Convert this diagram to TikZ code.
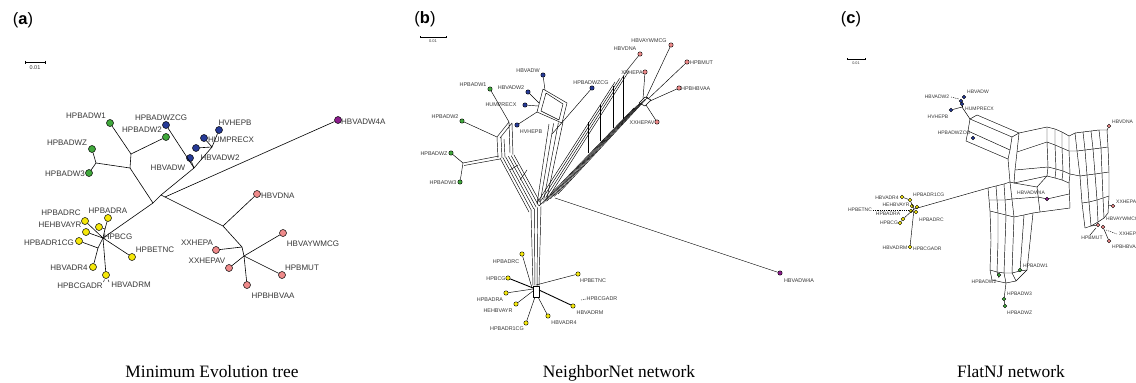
\documentclass[tikz,border=0pt]{standalone}
\usepackage{fontspec}
\setmainfont{Liberation Serif}
\setsansfont{Liberation Sans}
\usetikzlibrary{calc}
\definecolor{cgr}{RGB}{64,168,60}
\definecolor{cbl}{RGB}{38,58,150}
\definecolor{cpu}{RGB}{140,28,140}
\definecolor{cpk}{RGB}{238,138,138}
\definecolor{cye}{RGB}{245,232,10}
\definecolor{ctx}{RGB}{55,55,55}
\tikzset{
 ed/.style={line width=0.6pt, black},
 nt/.style={line width=0.45pt, black, line join=round},
 lf/.style={circle, draw=black, line width=0.5pt, inner sep=0pt, minimum size=7pt},
 sf/.style={circle, draw=black, line width=0.4pt, inner sep=0pt, minimum size=4.4pt},
 sc/.style={circle, draw=black, line width=0.4pt, inner sep=0pt, minimum size=3.8pt},
 la/.style={font=\sffamily\fontsize{8}{9}\selectfont, text=ctx, inner sep=0pt},
 lb/.style={font=\sffamily\fontsize{5.4}{6}\selectfont, text=ctx, inner sep=0pt},
 lc/.style={font=\sffamily\fontsize{5}{6}\selectfont, text=ctx, inner sep=0pt},
 pl/.style={font=\sffamily\fontsize{16.5}{18}\selectfont, inner sep=0pt},
 capt/.style={font=\rmfamily\fontsize{17.4}{20}\selectfont, inner sep=0pt, anchor=base},
 sbl/.style={font=\sffamily\fontsize{5.5}{6}\selectfont, text=ctx, inner sep=0pt},
 ldr/.style={line width=0.4pt, dash pattern=on 1.2pt off 1pt}
}
\begin{document}
\begin{tikzpicture}[x=1pt,y=-1pt]
\useasboundingbox (0,0) rectangle (1136,383);
\fill[white] (0,0) rectangle (1136,383);

%% ================= Panel (a) =================
\node[pl] (pa) at (23,20) {(\textbf{a})};
\coordinate (sa1) at (25,62); \coordinate (sa2) at (45,62);
\draw[line width=0.6pt] (sa1) -- (sa2);
\draw[line width=0.5pt] (25,60.5) -- (25,63.5) (45,60.5) -- (45,63.5);
\node[sbl] (sal) at (35,68) {0.01};

% leaves
\node[lf,fill=cgr] (aW1) at (110,123) {};
\node[lf,fill=cgr] (aW2) at (166,137) {};
\node[lf,fill=cgr] (aWZ) at (92,149) {};
\node[lf,fill=cgr] (aW3) at (89,173) {};
\node[lf,fill=cbl] (aZCG) at (166,125) {};
\node[lf,fill=cbl] (aHV) at (219,130) {};
\node[lf,fill=cbl] (aHU) at (204,138) {};
\node[lf,fill=cbl] (aD2) at (196,148) {};
\node[lf,fill=cbl] (aDW) at (190,158) {};
\node[lf,fill=cpu] (a4A) at (338,120) {};
\node[lf,fill=cye] (aRC) at (85,221) {};
\node[lf,fill=cye] (aRA) at (108,218) {};
\node[lf,fill=cye] (aY1) at (99,227) {};
\node[lf,fill=cye] (aY2) at (86,232) {};
\node[lf,fill=cye] (aR1) at (79,241) {};
\node[lf,fill=cye] (aET) at (132,257) {};
\node[lf,fill=cye] (aR4) at (93,267) {};
\node[lf,fill=cye] (aRM) at (106,275) {};
\node[lf,fill=cpk] (aDNA) at (257,194) {};
\node[lf,fill=cpk] (aXA) at (216,250) {};
\node[lf,fill=cpk] (aYW) at (283,233) {};
\node[lf,fill=cpk] (aXV) at (229,268) {};
\node[lf,fill=cpk] (aMU) at (282,275) {};
\node[lf,fill=cpk] (aHB) at (247,285) {};

% labels
\node[la] (taW1) at (86,116) {HPBADW1};
\node[la] (taW2) at (142,130) {HPBADW2};
\node[la] (taWZ) at (67,143) {HPBADWZ};
\node[la] (taW3) at (65,174) {HPBADW3};
\node[la] (taZCG) at (161,118) {HPBADWZCG};
\node[la] (taHV) at (235,123) {HVHEPB};
\node[la] (taHU) at (231,140) {HUMPRECX};
\node[la] (taD2) at (220,158) {HBVADW2};
\node[la] (taDW) at (168,168) {HBVADW};
\node[la,anchor=west] (ta4A) at (341,122) {HBVADW4A};
\node[la] (taRC) at (61,213) {HPBADRC};
\node[la] (taRA) at (108,211) {HPBADRA};
\node[la] (taVY) at (60,225) {HEHBVAYR};
\node[la] (taR1) at (49,243) {HPBADR1CG};
\node[la] (taCG) at (118,237) {HPBCG};
\node[la] (taET) at (155,250) {HPBETNC};
\node[la] (taR4) at (69,268) {HBVADR4};
\node[la] (taRM) at (131,285) {HBVADRM};
\node[la] (taCGA) at (80,286) {HPBCGADR};
\node[la,anchor=west] (taDNA) at (261,196) {HBVDNA};
\node[la] (taXA) at (197,243) {XXHEPA};
\node[la] (taYW) at (313,244) {HBVAYWMCG};
\node[la] (taXV) at (207,261) {XXHEPAV};
\node[la] (taMU) at (302,268) {HPBMUT};
\node[la] (taHB) at (273,296) {HPBHBVAA};
\draw[line width=0.4pt] (103.5,282) -- (104.5,279.5) (109,282) -- (108,279.5);

% internal
\coordinate (ag1) at (131,154); \coordinate (ag2) at (130,168);
\coordinate (ag3) at (96,163);  \coordinate (aA) at (153,203);
\coordinate (aB) at (161,195);  \coordinate (aC) at (165,197);
\coordinate (ab1) at (194,168); \coordinate (ab2) at (212,147);
\coordinate (aY0) at (103,238); \coordinate (aY3) at (105,229);
\coordinate (aY4) at (98,248);  \coordinate (aP1) at (223,226);
\coordinate (aP2) at (242,247); \coordinate (aP3) at (244,256);

\draw[ed] (aW1) -- (ag1); \draw[ed] (aW2) -- (ag1); \draw[ed] (ag1) -- (ag2);
\draw[ed] (ag2) -- (ag3); \draw[ed] (ag3) -- (aWZ); \draw[ed] (ag3) -- (aW3);
\draw[ed] (ag2) -- (aA); \draw[ed] (aA) -- (aB); \draw[ed] (aB) -- (ab1);
\draw[ed] (ab1) -- (aZCG); \draw[ed] (ab1) -- (aDW); \draw[ed] (ab1) -- (ab2);
\draw[ed] (ab2) -- (aHV); \draw[ed] (ab2) -- (aHU); \draw[ed] (ab2) -- (aD2);
\draw[ed] (aB) -- (aC); \draw[ed] (aC) -- (a4A); \draw[ed] (aC) -- (aP1);
\draw[ed] (aP1) -- (aDNA); \draw[ed] (aP1) -- (aP2); \draw[ed] (aP2) -- (aXA);
\draw[ed] (aP2) -- (aP3); \draw[ed] (aP3) -- (aYW); \draw[ed] (aP3) -- (aXV);
\draw[ed] (aP3) -- (aMU); \draw[ed] (aP3) -- (aHB);
\draw[ed] (aA) -- (aY0); \draw[ed] (aY0) -- (aRC); \draw[ed] (aY0) -- (aET);
\draw[ed] (aY0) -- (aY3); \draw[ed] (aY3) -- (aRA); \draw[ed] (aY3) -- (aY1);
\draw[ed] (aY0) -- (aY2); \draw[ed] (aY0) -- (aY4); \draw[ed] (aY4) -- (aR1);
\draw[ed] (aY4) -- (aR4); \draw[ed] (aY0) -- (aRM);

\node[capt] (capa) at (212,377) {Minimum Evolution tree};

%% ================= Panel (b) =================
\node[pl] (pb) at (425,19) {(\textbf{b})};
\draw[line width=0.5pt] (420,37) -- (446,37);
\draw[line width=0.4pt] (420,36) -- (420,38) (446,36) -- (446,38);
\node[font=\sffamily\fontsize{4}{5}\selectfont,text=ctx,inner sep=0pt] (sbl) at (433,41) {0.01};

% network body
\foreach \t in {0,0.2,0.4,0.6,0.8,1}
  \draw[nt] ($(500,158)!\t!(514,155)$) -- ($(529,212)!\t!(541,204)$);
\foreach \t in {0,0.33,0.67,1}
  \draw[nt] ($(549,124)!\t!(563,122)$) -- ($(537,204)!\t!(547,198)$);
\foreach \t in {0,0.2,0.4,0.6,0.8,1}
  \draw[nt] ($(539,206)!\t!(558,194)$) -- ($(634,108)!\t!(648,97)$);
\foreach \t in {0,0.33,0.67,1}
  \draw[nt] ($(537,203)!\t!(550,195)$) -- ($(615,82)!\t!(629,71)$);
\foreach \t in {0,0.33,0.67,1}
  \draw[nt] ($(531,210)!\t!(541,206)$) -- ($(533,286)!\t!(539,286)$);
\draw[nt] (613,86) -- (613,128) (623,76) -- (623,119) (600,105) -- (600,141) (588,122) -- (588,153);
\draw[nt] (520,180) -- (527,170) (510,170) -- (518,165);
% green box
\draw[nt] (497,137) -- (498,158) (501,137) -- (502,158) (504,139) -- (505,157)
          (509,122) -- (510,153) (512,123) -- (513,155)
          (497,137) -- (509,122) (500,138) -- (512,123);
% blue box
\draw[nt] (543,89) -- (567,103) -- (562,123) -- (537,112) -- cycle;
\draw[nt] (546,93) -- (563,104) -- (559,120) -- (541,111) -- cycle;
% pink node box
\draw[nt] (639,103) -- (645,97) -- (651,100) -- (645,106) -- cycle;
% yellow box
\draw[nt] (533,286) -- (539,286) -- (539,297) -- (533,297) -- cycle;

% leaves
\node[sf,fill=cpk] (bYW) at (671,45) {};
\node[sf,fill=cpk] (bDNA) at (640,54) {};
\node[sf,fill=cpk] (bMU) at (687,62) {};
\node[sf,fill=cpk] (bXA) at (645,72) {};
\node[sf,fill=cpk] (bHB) at (679,88) {};
\node[sf,fill=cpk] (bXV) at (657,122) {};
\node[sf,fill=cbl] (bZCG) at (592,88) {};
\node[sf,fill=cbl] (bDW) at (543,75) {};
\node[sf,fill=cbl] (bD2) at (528,92) {};
\node[sf,fill=cbl] (bHU) at (525,105) {};
\node[sf,fill=cbl] (bHV) at (517,125) {};
\node[sf,fill=cgr] (bW1) at (490,89) {};
\node[sf,fill=cgr] (bW2) at (462,121) {};
\node[sf,fill=cgr] (bWZ) at (451,153) {};
\node[sf,fill=cgr] (bW3) at (460,182) {};
\node[sf,fill=cpu] (b4A) at (780,273) {};
\node[sf,fill=cye] (bRC) at (522,254) {};
\node[sf,fill=cye] (bCG) at (508,278) {};
\node[sf,fill=cye] (bET) at (578,274) {};
\node[sf,fill=cye] (bRA) at (506,293) {};
\node[sf,fill=cye] (bVY) at (516,304) {};
\node[sf,fill=cye] (bRM) at (573,306) {};
\node[sf,fill=cye] (bR4) at (548,316) {};
\node[sf,fill=cye] (bR1) at (526,323) {};

\coordinate (bgz) at (463,163);
\draw[nt] (bW1) -- (509,122); \draw[nt] (bW2) -- (497,137);
\draw[nt] (bWZ) -- (bgz); \draw[nt] (bW3) -- (bgz);
\draw[nt] (bgz) -- (499,156); \draw[nt] (464,165.5) -- (500,159);
\draw[nt] (bDW) -- (545,90); \draw[nt] (bD2) -- (539,103);
\draw[nt] (bHU) -- (538,106); \draw[nt] (bHV) -- (537,112);
\draw[nt] (bZCG) -- (552,134);
\draw[nt] (bYW) -- (646,98); \draw[nt] (bMU) -- (648,99);
\draw[nt] (bHB) -- (650,101); \draw[nt] (bXV) -- (646,105);
\draw[nt] (bXA) -- (643,99); \draw[nt] (bDNA) -- (624,74);
\draw[nt] (555,198) -- (b4A);
\draw[nt] (bRC) -- (532,288); \draw[line width=0.9pt] (bCG) -- (533,288);
\draw[line width=0.9pt] (539,290) -- (bRM); \draw[nt] (bET) -- (536,285);
\draw[nt] (bRA) -- (533,289); \draw[nt] (bVY) -- (533,291);
\draw[nt] (bR1) -- (535,297); \draw[nt] (bR4) -- (538,297);
\draw[ldr] (581,300) -- (586,299);

\node[lb] (tbYW) at (649,41) {HBVAYWMCG};
\node[lb] (tbDNA) at (625,49) {HBVDNA};
\node[lb,anchor=west] (tbMU) at (690,63) {HPBMUT};
\node[lb] (tbXA) at (632,73) {XXHEPA};
\node[lb,anchor=west] (tbHB) at (681,89) {HPBHBVAA};
\node[lb] (tbXV) at (642,123) {XXHEPAV};
\node[lb] (tbZCG) at (591,83) {HPBADWZCG};
\node[lb] (tbDW) at (528,71) {HBVADW};
\node[lb] (tbD2) at (511,88) {HBVADW2};
\node[lb] (tbHU) at (501,105) {HUMPRECX};
\node[lb] (tbHV) at (531,132) {HVHEPB};
\node[lb] (tbW1) at (473,85) {HPBADW1};
\node[lb] (tbW2) at (445,117) {HPBADW2};
\node[lb] (tbWZ) at (434,154) {HPBADWZ};
\node[lb] (tbW3) at (443,183) {HPBADW3};
\node[lb] (tb4A) at (799,281) {HBVADW4A};
\node[lb] (tbRC) at (506,262) {HPBADRC};
\node[lb] (tbCG) at (496,279) {HPBCG};
\node[lb] (tbET) at (593,281) {HPBETNC};
\node[lb] (tbRA) at (490,300) {HPBADRA};
\node[lb] (tbVY) at (498,311) {HEHBVAYR};
\node[lb] (tbCGA) at (602,299) {HPBCGADR};
\node[lb] (tbRM) at (590,313) {HBVADRM};
\node[lb] (tbR4) at (564,323) {HBVADR4};
\node[lb] (tbR1) at (507,329) {HPBADR1CG};

\node[capt] (capb) at (619,377) {NeighborNet network};

%% ================= Panel (c) =================
\node[pl] (pc) at (851,19) {(\textbf{c})};
\draw[line width=0.5pt] (847,59) -- (865,59);
\draw[line width=0.4pt] (847,58) -- (847,60) (865,58) -- (865,60);
\node[font=\sffamily\fontsize{3.8}{4}\selectfont,text=ctx,inner sep=0pt] (scl) at (856,63) {0.01};

% top-left box
\draw[nt] (977,115) -- (970,119) -- (968,131) -- (966,141);
\draw[nt] (1019,133) -- (1012,137) -- (1010,150) -- (1008,159);
\draw[nt] (977,115) -- (1019,133) (970,119) -- (1012,137) (968,131) -- (1010,150) (966,141) -- (1008,159);
% middle horizontal strip
\draw[nt] (1019,133) -- (1017,152) -- (1015,170) -- (1014,183);
\draw[nt] (1047,127) -- (1047,142) -- (1048,167) -- (1047,176);
\draw[nt] (1055,129) -- (1055,145) -- (1056,169) -- (1055,178);
\draw[nt] (1062,132) -- (1062,148) -- (1063,171) -- (1062,180);
\draw[nt] (1069,136) -- (1069,151) -- (1070,174) -- (1069,183);
\draw[nt] (1019,133) -- (1047,127) -- (1055,129) -- (1062,132) -- (1069,136);
\draw[nt] (1017,152) -- (1047,142) -- (1055,145) -- (1062,148) -- (1069,151);
\draw[nt] (1015,170) -- (1048,167) -- (1056,169) -- (1063,171) -- (1070,174);
\draw[nt] (1014,183) -- (1047,176) -- (1055,178) -- (1062,180) -- (1069,183);
% right strip
\draw[nt] (1075,133) -- (1077,151) -- (1080,176) -- (1082,203) -- (1085,228);
\draw[nt] (1083,132) -- (1085,150) -- (1087,175) -- (1089,202) -- (1091,226);
\draw[nt] (1091,131) -- (1093,149) -- (1095,174) -- (1097,200) -- (1098,222);
\draw[nt] (1099,130) -- (1101,148) -- (1102,173) -- (1103,198) -- (1104,218);
\draw[nt] (1107,130) -- (1108,147) -- (1109,172) -- (1109,196) -- (1108,213);
\draw[nt] (1069,136) -- (1075,133) -- (1083,132) -- (1091,131) -- (1099,130) -- (1107,130);
\draw[nt] (1069,151) -- (1077,151) -- (1085,150) -- (1093,149) -- (1101,148) -- (1108,147);
\draw[nt] (1070,174) -- (1080,176) -- (1087,175) -- (1095,174) -- (1102,173) -- (1109,172);
\draw[nt] (1082,203) -- (1089,202) -- (1097,200) -- (1103,198) -- (1109,196);
\draw[nt] (1085,228) -- (1091,226) -- (1098,222) -- (1104,218) -- (1108,213);
% lower-left strip
\draw[nt] (1008,159) -- (1010,182) -- (1014,183);
\draw[nt] (988,188) -- (990,211) (996,186) -- (998,213) (1004,184) -- (1006,215) (1010,182) -- (1014,217);
\draw[nt] (988,188) -- (996,186) -- (1004,184) -- (1010,182);
\draw[nt] (989,200) -- (997,200) -- (1005,200) -- (1012,199);
\draw[nt] (990,211) -- (998,213) -- (1006,215) -- (1014,217);
% HBVADW4A box
\draw[nt] (1014,183) -- (1037,187) -- (1047,176);
\draw[nt] (1012,199) -- (1038,197);
\draw[nt] (1037,187) -- (1040,212) -- (1070,208) -- (1069,183);
\draw[nt] (1038,197) -- (1047,199) -- (1069,194);
% down strip
\draw[nt] (990,211) -- (991,240) -- (990,270);
\draw[nt] (998,213) -- (998,242) -- (997,272);
\draw[nt] (1006,215) -- (1005,244) -- (1004,273);
\draw[nt] (1014,217) -- (1013,244) -- (1012,273);
\draw[nt] (1024,215) -- (1022,243) -- (1020,271);
\draw[nt] (1033,213) -- (1030,242) -- (1027,270);
\draw[nt] (1014,217) -- (1024,215) -- (1033,213) -- (1040,212);
\draw[nt] (990,270) -- (997,272) -- (1004,273) -- (1012,273) -- (1020,271) -- (1027,270);
\draw[nt] (990,270) -- (992,280) -- (1006,283) -- (1016,281) -- (1027,270);
\draw[nt] (1004,273) -- (1006,283) (1012,273) -- (1016,281) (997,272) -- (999,278);

% leaves
\node[sc,fill=cbl] (cDW) at (964,97) {};
\node[sc,fill=cbl] (cD2) at (961,101) {};
\node[sc,fill=cbl] (cHU) at (962,104) {};
\node[sc,fill=cbl] (cHV) at (951,110) {};
\node[sc,fill=cbl] (cZCG) at (973,138) {};
\node[sc,fill=cpk] (cDNA) at (1109,126) {};
\node[sc,fill=cpu] (c4A) at (1047,199) {};
\node[sc,fill=cpk] (cXA) at (1113,206) {};
\node[sc,fill=cpk] (cP1) at (1098,225) {};
\node[sc,fill=cpk] (cP2) at (1103,227) {};
\node[sc,fill=cpk] (cHB) at (1109,241) {};
\node[sc,fill=cgr] (cW1) at (1020,270) {};
\node[sc,fill=cgr] (cW2) at (999,275) {};
\node[sc,fill=cgr] (cW3) at (1004,299) {};
\node[sc,fill=cgr] (cWZ) at (1005,306) {};
\node[sc,fill=cye] (cR4) at (902,197) {};
\node[sc,fill=cye] (cR1) at (910,200) {};
\node[sc,fill=cye] (cYa) at (912,206) {};
\node[sc,fill=cye] (cYb) at (917,207) {};
\node[sc,fill=cye] (cYc) at (911,211) {};
\node[sc,fill=cye] (cYd) at (916,212) {};
\node[sc,fill=cye] (cCG1) at (903,219) {};
\node[sc,fill=cye] (cCG2) at (900,223) {};
\node[sc,fill=cye] (cRM) at (910,247) {};

\coordinate (cb1) at (962,107);
\coordinate (cyc) at (914,209);
\draw[nt] (cb1) -- (970,119);
\draw[nt] (cHV) -- (cb1); \draw[nt] (cHU) -- (cb1);
\draw[nt] (cDNA) -- (1107,130);
\draw[nt] (1108.5,205) -- (cXA);
\draw[nt] (1091,226) -- (cP1); \draw[nt] (cP2) -- (cHB);
\draw[nt] (cR4) -- (cR1); \draw[nt] (cR1) -- (cyc);
\draw[nt] (cCG2) -- (cCG1); \draw[nt] (cCG1) -- (cyc);
\draw[nt] (cyc) -- (cRM); \draw[nt] (cyc) -- (988,188);
\draw[nt] (1006,283) -- (cW3); \draw[nt] (cW3) -- (cWZ);
\draw[ldr] (951,97) -- (959,99);
\draw[ldr] (873,210) -- (909,210);
\draw[ldr] (1106,230) -- (1117,234);
\draw[nt] (1090,235) -- (1096,228);

\node[lc,anchor=west] (tcDW) at (967,92) {HBVADW};
\node[lc] (tcD2) at (937,97) {HBVADW2};
\node[lc,anchor=west] (tcHU) at (965,109) {HUMPRECX};
\node[lc] (tcHV) at (938,117) {HVHEPB};
\node[lc] (tcZCG) at (954,133) {HPBADWZCG};
\node[lc,anchor=west] (tcDNA) at (1112,122) {HBVDNA};
\node[lc] (tc4A) at (1031,193) {HBVADW4A};
\node[lc,anchor=west] (tcXA) at (1116,202) {XXHEPA};
\node[lc,anchor=west] (tcYW) at (1106,219) {HBVAYWMCG};
\node[lc] (tcMU) at (1092,238) {HPBMUT};
\node[lc,anchor=west] (tcXV) at (1119,234) {XXHEPAV};
\node[lc,anchor=west] (tcHB) at (1112,247) {HPBHBVAA};
\node[lc,anchor=west] (tcW1) at (1023,266) {HPBADW1};
\node[lc] (tcW2) at (984,282) {HPBADW2};
\node[lc,anchor=west] (tcW3) at (1007,294) {HPBADW3};
\node[lc,anchor=west] (tcWZ) at (1007,313) {HPBADWZ};
\node[lc] (tcR4) at (887,198) {HBVADR4};
\node[lc,anchor=west] (tcR1) at (913,195) {HPBADR1CG};
\node[lc] (tcVY) at (896,205) {HEHBVAYR};
\node[lc] (tcET) at (860,210) {HPBETNC};
\node[lc] (tcRA) at (888,214) {HPBADRA};
\node[lc] (tcCG) at (889,223) {HPBCG};
\node[lc,anchor=west] (tcRC) at (919,220) {HPBADRC};
\node[lc] (tcRM) at (895,248) {HBVADRM};
\node[lc,anchor=west] (tcCGA) at (913,249) {HPBCGADR};

\node[capt] (capc) at (1011,377) {FlatNJ network};
\end{tikzpicture}
\end{document}
